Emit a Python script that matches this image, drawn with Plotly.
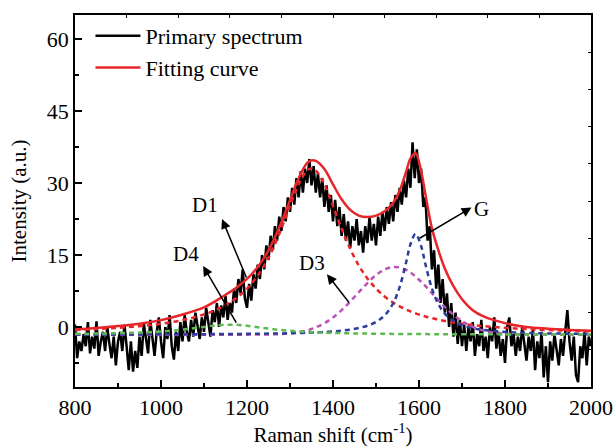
import plotly.graph_objects as go

# ---------------- data ----------------
raman_start = 800
raman_step = 5
primary_intensity = [
    0.5, -6.5, -3, -5, -1.5, -4, 1, -5.5, -2, -4.5,
    1.2, -6, -3, -1, -5, 0, -3.5, -6.5, -2, -8,
    -3, -1, -5, 0.5, -4, -9, -3, -9.3, -5, -8.5,
    -2, -6, 0.8, -3, -5.5, 1.5, -2, -6, -1, 2,
    -3, -6.5, 0, -2.5, 2.5, -4, -6.8, -1, -5, 1,
    -3, 2.5, -1, -3, 1.5, -2, 3, 0, -2.5, 2,
    -1, 4, 0.5, -2, 3.5, 1, 5, 0, 4.5, 2,
    6.5, 1.5, 5, 3, 8, 5, 10, 7, 12, 6,
    4, 9, 5.5, 11, 8, 13, 10, 15, 12, 17,
    14, 19, 16, 21, 18, 23, 20, 25, 22, 27,
    24, 29, 25.5, 31, 27, 32.5, 28, 33, 30, 35,
    29.5, 33.5, 28, 32, 27, 31, 25, 29.5, 24, 27.5,
    22, 26.5, 21, 25, 19, 23.5, 18, 22, 16.5, 21,
    18, 22.5, 17, 20, 15.5, 21, 17.5, 23, 18, 21.5,
    17, 23, 19, 24, 20, 25, 21.5, 26, 22, 27.5,
    24, 29, 25.5, 30.5, 27, 33, 29, 38.5, 31, 37,
    30, 33, 25, 27, 18, 21, 12, 16, 8, 13,
    5, 10, 3, 7, 0, 5, -2, 3, -3.5, 1.5,
    -4, 0.5, -5, 0, -3, 1, -6, -1.5, -4, 1.5,
    -5, -2, -6.5, 0, -3, 2, -4.5, -1, -6, -2.5,
    -7.5, 0, 2, -4, -1.5, -6, -2, -5, 0, -4,
    -7, -2, -5, -0.5, -9, -3, -6.5, -1, -10.5, -4,
    -11.5, -3, -7, -1.5, -5, -8, -2.5, -6, -1, 3.5,
    -3, -7, -2, -10, -11.5, -4, -6.5, -1, -8, -2,
    -4,
]
raman_shift = [raman_start + raman_step * i for i in range(len(primary_intensity))]

fit_shift = [800, 850, 900, 950, 1000, 1050, 1100, 1125, 1150, 1175,
             1200, 1225, 1250, 1275, 1300, 1320, 1340, 1350, 1360, 1380,
             1400, 1420, 1440, 1460, 1480, 1500, 1520, 1540, 1555, 1570,
             1580, 1592, 1605, 1615, 1630, 1645, 1660, 1680, 1700, 1725,
             1750, 1800, 1850, 1900, 1950, 2000]

fitting_curve = [-0.5, -0.2, 0.19, 0.69, 1.43, 2.6, 4.1, 5.3, 6.7, 8.2,
                 10.04, 12.49, 15.97, 20.75, 26.4, 31.0, 34.2, 34.7, 34.6, 32.9,
                 29.7, 26.6, 24.4, 23.2, 22.9, 23.2, 24.1, 25.9, 28.4, 32.3,
                 35.1, 36.2, 32.4, 27.6, 20.6, 16.0, 12.2, 8.5, 5.8, 3.5,
                 2.2, 0.8, 0.0, -0.35, -0.6, -0.8]

peak_d1 = [-0.64, -0.44, -0.18, 0.17, 0.68, 1.43, 2.61, 3.45, 4.55, 6.02,
           8.01, 10.73, 14.45, 19.37, 25.24, 29.74, 32.6, 33.0, 32.6, 29.74,
           25.24, 20.49, 16.27, 12.82, 10.11, 8.01, 6.37, 5.09, 4.31, 3.65,
           3.26, 2.85, 2.46, 2.19, 1.84, 1.53, 1.26, 0.95, 0.68, 0.40,
           0.17, -0.18, -0.44, -0.64, -0.79, -0.91]

peak_d3 = [-1.6, -1.6, -1.6, -1.6, -1.6, -1.6, -1.6, -1.6, -1.6, -1.6,
           -1.59, -1.58, -1.55, -1.48, -1.32, -1.09, -0.70, -0.43, -0.09, 0.79,
           1.98, 3.50, 5.30, 7.25, 9.16, 10.81, 11.97, 12.50, 12.39, 11.88,
           11.35, 10.51, 9.43, 8.51, 7.05, 5.59, 4.20, 2.56, 1.23, 0.02,
           -0.75, -1.41, -1.57, -1.6, -1.6, -1.6]

peak_g = [-1.56, -1.55, -1.55, -1.54, -1.53, -1.51, -1.49, -1.48, -1.47, -1.45,
          -1.43, -1.41, -1.38, -1.35, -1.30, -1.26, -1.20, -1.17, -1.13, -1.04,
          -0.93, -0.77, -0.54, -0.22, 0.27, 1.06, 2.41, 4.95, 8.32, 13.45,
          17.19, 19.40, 16.85, 13.07, 8.04, 4.78, 2.80, 1.27, 0.40, -0.24,
          -0.62, -1.02, -1.22, -1.33, -1.40, -1.45]

peak_d4 = [-1.42, -1.37, -1.28, -1.15, -0.93, -0.55, 0.02, 0.31, 0.48, 0.46,
           0.26, -0.04, -0.34, -0.60, -0.80, -0.93, -1.03, -1.07, -1.11, -1.18,
           -1.24, -1.28, -1.32, -1.35, -1.38, -1.40, -1.42, -1.44, -1.45, -1.46,
           -1.47, -1.47, -1.48, -1.48, -1.49, -1.50, -1.50, -1.51, -1.52, -1.52,
           -1.53, -1.54, -1.55, -1.55, -1.56, -1.56]

x_ticks = [800, 1000, 1200, 1400, 1600, 1800, 2000]
y_ticks = [0, 15, 30, 45, 60]

# annotation labels: (text, text_x, text_y, head_x, head_y, tail_x, tail_y)
labels = [
    ("D1", 1102, 25.4, 1142, 22.5, 1200, 10.0),
    ("D4", 1058, 15.2, 1098, 12.7, 1177, 0.6),
    ("D3", 1351, 13.3, 1386, 11.0, 1440, 4.8),
    ("G", 1745, 24.6, 1722, 24.9, 1598, 18.3),
]

# ---------------- figure ----------------
FONT = "'Times New Roman', 'Liberation Serif', 'DejaVu Serif', serif"
dash = "5px,4px"

fig = go.Figure()
fig.add_trace(go.Scatter(x=raman_shift, y=primary_intensity, mode="lines",
                         line=dict(color="black", width=2.5),
                         name="Primary spectrum"))
for yy, col in [(peak_d1, "#E8262A"), (peak_d3, "#BB52B8"),
                (peak_g, "#2B3E9C"), (peak_d4, "#5DBA53")]:
    fig.add_trace(go.Scatter(x=fit_shift, y=yy, mode="lines",
                             line=dict(color=col, width=2.5, dash=dash, shape="spline"),
                             showlegend=False, hoverinfo="skip"))
fig.add_trace(go.Scatter(x=fit_shift, y=fitting_curve, mode="lines",
                         line=dict(color="#E8262A", width=2.5, shape="spline"),
                         name="Fitting curve"))
# helper trace for top/right tick axes
fig.add_trace(go.Scatter(x=[None], y=[None], xaxis="x2", yaxis="y2",
                         showlegend=False, hoverinfo="skip"))

for text, tx, ty, hx, hy, ax_, ay_ in labels:
    fig.add_annotation(x=tx, y=ty, text=text, showarrow=False,
                       font=dict(family=FONT, size=21, color="black"))
    fig.add_annotation(x=hx, y=hy, ax=ax_, ay=ay_, xref="x", yref="y",
                       axref="x", ayref="y", text="", showarrow=True,
                       arrowhead=2, arrowsize=1.3, arrowwidth=1.5,
                       arrowcolor="black", standoff=0, startstandoff=0)

axis_common = dict(showgrid=False, zeroline=False, showline=True, linecolor="black",
                   linewidth=1.5, mirror=True, ticks="inside", tickcolor="black",
                   tickwidth=1.5, ticklen=7, automargin=False,
                   tickfont=dict(family=FONT, size=22, color="black"))

fig.update_layout(
    width=614, height=447,
    margin=dict(l=75, r=23, t=15, b=60),
    plot_bgcolor="white", paper_bgcolor="white",
    font=dict(family=FONT, color="black"),
    xaxis=dict(range=[800, 2000], tickvals=x_ticks,
               minor=dict(dtick=100, tick0=800, ticks="inside", ticklen=4,
                          tickwidth=1.5, tickcolor="black"),
               title=dict(text="Raman shift (cm<sup>-1</sup>)",
                          font=dict(family=FONT, size=21), standoff=10),
               **axis_common),
    yaxis=dict(range=[-12.5, 65], tickvals=y_ticks,
               minor=dict(dtick=7.5, tick0=0, ticks="inside", ticklen=4,
                          tickwidth=1.5, tickcolor="black"),
               title=dict(text="Intensity (a.u.)",
                          font=dict(family=FONT, size=21), standoff=14),
               **axis_common),
    xaxis2=dict(overlaying="x", side="top", range=[0, 10], dtick=1, ticks="inside",
                ticklen=3, tickwidth=1.2, tickcolor="black", showticklabels=False,
                showgrid=False, zeroline=False, showline=False, automargin=False),
    yaxis2=dict(overlaying="y", side="right", range=[0, 10], dtick=1, ticks="inside",
                ticklen=3, tickwidth=1.2, tickcolor="black", showticklabels=False,
                showgrid=False, zeroline=False, showline=False, automargin=False),
    legend=dict(x=0.03, y=1.0, xanchor="left", yanchor="top",
                bgcolor="rgba(0,0,0,0)", font=dict(family=FONT, size=22),
                itemwidth=45, tracegroupgap=0),
    showlegend=True,
)

fig.write_html("out.html")
